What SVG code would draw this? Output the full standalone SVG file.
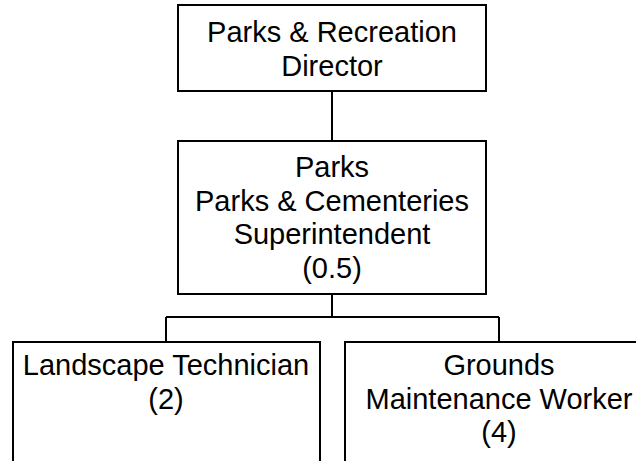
<svg xmlns="http://www.w3.org/2000/svg" width="636" height="461" viewBox="0 0 636 461">
  <style>
    .box { fill: #ffffff; stroke: #000000; stroke-width: 2; }
    .wire { fill: none; stroke: #000000; stroke-width: 2; }
    .label { font-family: "Liberation Sans", Arial, sans-serif; font-size: 29px; fill: #000000; text-anchor: middle; }
  </style>
  <rect width="636" height="461" fill="#ffffff"/>

  <!-- reporting lines -->
  <g id="connectors">
    <path class="wire" d="M332 91 V141"/>
    <path class="wire" d="M332 294 V317 M166 317 H499 M166 317 V342 M499 317 V342"/>
  </g>

  <g id="director">
    <rect class="box" x="178" y="5" width="308" height="86"/>
    <text class="label" x="332" y="42">Parks &amp; Recreation</text>
    <text class="label" x="332" y="76">Director</text>
  </g>

  <g id="superintendent">
    <rect class="box" x="178" y="141" width="308" height="153"/>
    <text class="label" x="332" y="177">Parks</text>
    <text class="label" x="332" y="211">Parks &amp; Cementeries</text>
    <text class="label" x="332" y="244">Superintendent</text>
    <text class="label" x="332" y="278">(0.5)</text>
  </g>

  <g id="landscape-technician">
    <rect class="box" x="13" y="342" width="307" height="140"/>
    <text class="label" x="166" y="375">Landscape Technician</text>
    <text class="label" x="166" y="409">(2)</text>
  </g>

  <g id="grounds-maintenance">
    <rect class="box" x="345" y="342" width="308" height="140"/>
    <text class="label" x="499" y="375">Grounds</text>
    <text class="label" x="499" y="409">Maintenance Worker</text>
    <text class="label" x="499" y="442">(4)</text>
  </g>
</svg>
